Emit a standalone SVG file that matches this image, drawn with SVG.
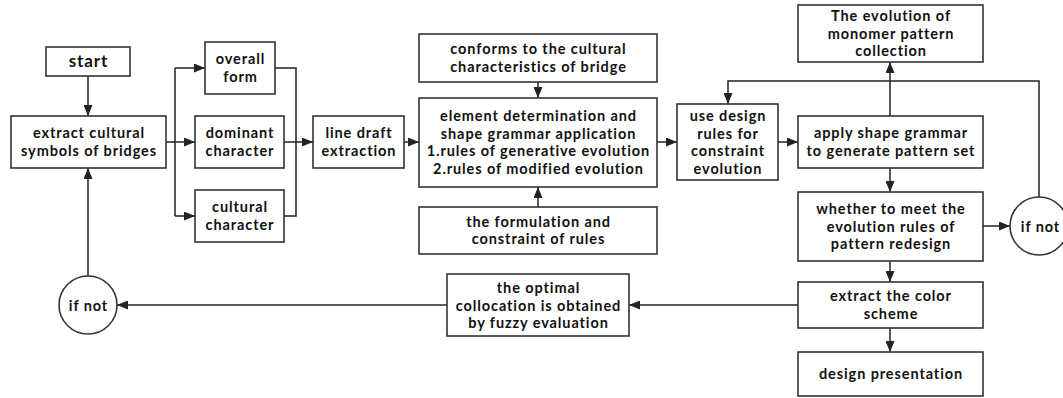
<svg xmlns="http://www.w3.org/2000/svg" width="1063" height="398" viewBox="0 0 1063 398">
<defs>
<marker id="ah" markerWidth="11" markerHeight="9" refX="11" refY="4.5" orient="auto" markerUnits="userSpaceOnUse">
<path d="M0,0 L11,4.5 L0,9 Z" fill="#222"/>
</marker>
<style>
.box{fill:#fff;stroke:#333;stroke-width:1.6}
.c{fill:none;stroke:#222;stroke-width:1.5}
.a{fill:none;stroke:#222;stroke-width:1.5;marker-end:url(#ah)}
text{font-family:Lato,"Open Sans",sans-serif;font-weight:700;font-size:14.5px;letter-spacing:0.9px;fill:#111;text-anchor:middle}
</style>
</defs>
<rect width="1063" height="398" fill="#fff"/>
<g id="connectors">
<path class="a" d="M88,76 V116"/>
<path class="c" d="M166,142 H175 M175,68 V216"/>
<path class="a" d="M175,68 H205"/>
<path class="a" d="M175,142 H195"/>
<path class="a" d="M175,216 H195"/>
<path class="c" d="M275,68 H296 V216 H284"/>
<path class="a" d="M284,142 H313"/>
<path class="a" d="M404,142 H419"/>
<path class="a" d="M538,82 V98"/>
<path class="a" d="M538,207 V187"/>
<path class="a" d="M657,142 H677"/>
<path class="a" d="M778,142 H798"/>
<path class="a" d="M890,116 V62"/>
<path class="a" d="M890,168 V192"/>
<path class="a" d="M983,226 H1010"/>
<path class="a" d="M1039,197 V81 H728 V104"/>
<path class="a" d="M890,261 V282"/>
<path class="a" d="M890,328 V352"/>
<path class="a" d="M798,305 H629"/>
<path class="a" d="M447,305 H117"/>
<path class="a" d="M88,276 V168"/>
</g>
<g id="start"><rect class="box" x="46" y="47" width="84" height="29"/><text x="88.5" y="67" style="font-size:17px">start</text></g>
<g id="extract"><rect class="box" x="11" y="116" width="155" height="52"/><text x="89" y="138">extract cultural</text><text x="89" y="156">symbols of bridges</text></g>
<g id="overall"><rect class="box" x="205" y="42" width="70" height="52"/><text x="240.5" y="64">overall</text><text x="240.5" y="82">form</text></g>
<g id="dominant"><rect class="box" x="195" y="116" width="89" height="52"/><text x="240" y="138">dominant</text><text x="240" y="156">character</text></g>
<g id="cultural"><rect class="box" x="195" y="190" width="89" height="52"/><text x="240" y="212">cultural</text><text x="240" y="230">character</text></g>
<g id="linedraft"><rect class="box" x="313" y="116" width="91" height="52"/><text x="359" y="138">line draft</text><text x="359" y="156">extraction</text></g>
<g id="conforms"><rect class="box" x="419" y="34" width="238" height="48"/><text x="538.5" y="54">conforms to the cultural</text><text x="538.5" y="72">characteristics of bridge</text></g>
<g id="element"><rect class="box" x="419" y="98" width="238" height="89"/><text x="538.5" y="121">element determination and</text><text x="538.5" y="138.5">shape grammar application</text><text x="538.5" y="156">1.rules of generative evolution</text><text x="538.5" y="173.5">2.rules of modified evolution</text></g>
<g id="formulation"><rect class="box" x="419" y="207" width="238" height="47"/><text x="538.5" y="226.5">the formulation and</text><text x="538.5" y="244">constraint of rules</text></g>
<g id="usedesign"><rect class="box" x="677" y="104" width="101" height="76"/><text x="728" y="121">use design</text><text x="728" y="138.5">rules for</text><text x="728" y="156">constraint</text><text x="728" y="173.5">evolution</text></g>
<g id="apply"><rect class="box" x="798" y="116" width="185" height="52"/><text x="891" y="138">apply shape grammar</text><text x="891" y="156">to generate pattern set</text></g>
<g id="evolution"><rect class="box" x="798" y="5" width="185" height="57"/><text x="891" y="21">The evolution of</text><text x="891" y="38.5">monomer pattern</text><text x="891" y="56">collection</text></g>
<g id="whether"><rect class="box" x="798" y="192" width="185" height="69"/><text x="891" y="214">whether to meet the</text><text x="891" y="231.5">evolution rules of</text><text x="891" y="249">pattern redesign</text></g>
<g id="color"><rect class="box" x="798" y="282" width="185" height="46"/><text x="891" y="301">extract the color</text><text x="891" y="318.5">scheme</text></g>
<g id="presentation"><rect class="box" x="798" y="352" width="185" height="44"/><text x="891" y="379">design presentation</text></g>
<g id="optimal"><rect class="box" x="447" y="274" width="182" height="62"/><text x="538.5" y="293">the optimal</text><text x="538.5" y="310.5">collocation is obtained</text><text x="538.5" y="328">by fuzzy evaluation</text></g>
<g id="ifnot-right"><circle class="box" cx="1039" cy="226" r="29"/><text x="1040.5" y="231.5">if not</text></g>
<g id="ifnot-left"><circle class="box" cx="88" cy="305" r="29"/><text x="88.5" y="310.5">if not</text></g>
</svg>
